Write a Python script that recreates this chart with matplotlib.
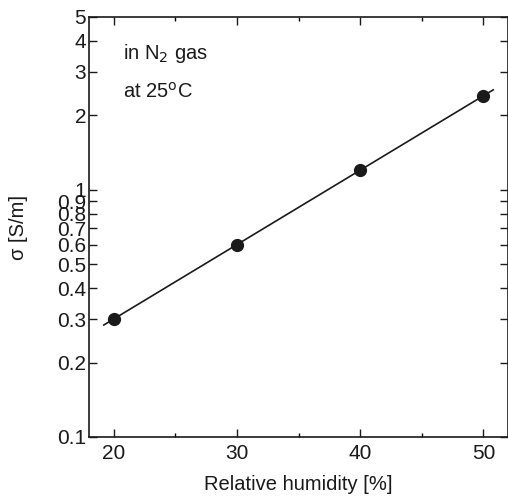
import numpy as np
import matplotlib
matplotlib.use("Agg")
import matplotlib.pyplot as plt
from matplotlib.ticker import FixedLocator, FixedFormatter, NullFormatter

plt.rcParams['font.family'] = ['Liberation Sans', 'DejaVu Sans']

# data
humidity = [20, 30, 40, 50]
sigma = [0.3, 0.6, 1.2, 2.4]
fit_range = [19.2, 50.8]

yticks = [0.1, 0.2, 0.3, 0.4, 0.5, 0.6, 0.7, 0.8, 0.9, 1, 2, 3, 4, 5]
ytick_labels = ['0.1', '0.2', '0.3', '0.4', '0.5', '0.6', '0.7', '0.8', '0.9', '1', '2', '3', '4', '5']
xticks = [20, 30, 40, 50]
xminor = [25, 35, 45]

# exponential fit (straight line on log axis)
coef = np.polyfit(humidity, np.log10(sigma), 1)
fx = np.array(fit_range)
fy = 10 ** np.polyval(coef, fx)

fig = plt.figure(figsize=(5.08, 5.04), dpi=100)
ax = fig.add_axes([89/508, 1 - 437/504, (508-89)/508, (437-17)/504])

ax.plot(fx, fy, c='#1a1a1a', lw=1.2)
ax.plot(humidity, sigma, 'o', c='#1a1a1a', ms=8.5)

ax.set_yscale('log')
ax.set_xlim(18, 52)
ax.set_ylim(0.1, 5)

ax.yaxis.set_major_locator(FixedLocator(yticks))
ax.yaxis.set_major_formatter(FixedFormatter(ytick_labels))
ax.yaxis.set_minor_locator(FixedLocator([]))
ax.yaxis.set_minor_formatter(NullFormatter())
ax.set_xticks(xticks)
ax.set_xticks(xminor, minor=True)

ax.tick_params(which='major', direction='in', length=6, width=1, top=True, right=True,
               labelsize=15, color='#1a1a1a', labelcolor='#1a1a1a', pad=3)
ax.tick_params(which='minor', direction='in', length=3, width=1, top=True, right=True)
ax.tick_params(axis='y', pad=2)
ax.tick_params(axis='x', pad=5)

for s in ax.spines.values():
    s.set_linewidth(1.2)
    s.set_color('#1a1a1a')

ax.set_xlabel('Relative humidity [%]', fontsize=14.5, color='#1a1a1a', labelpad=9)
ax.set_ylabel('σ [S/m]', fontsize=14.5, color='#1a1a1a', labelpad=21)

ax.text(0.08, 0.913, r'in N$_2$ gas', transform=ax.transAxes, fontsize=14.5, color='#1a1a1a', va='center')
ax.text(0.08, 0.822, r'at 25$^{\rm o}$C', transform=ax.transAxes, fontsize=14.5, color='#1a1a1a', va='center')

fig.savefig('out.png', dpi=100)
